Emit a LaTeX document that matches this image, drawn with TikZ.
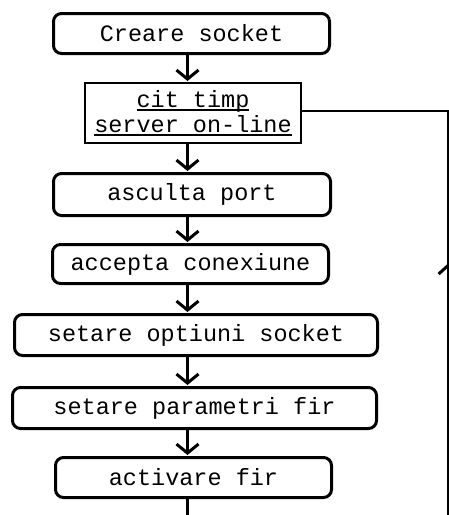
\documentclass[tikz,border=0pt]{standalone}
\usepackage{fontspec}
\setmainfont{Liberation Mono}
\usetikzlibrary{arrows.meta,decorations.markings}
\newcommand\myul[1]{\setbox0\hbox{#1}\rlap{\rule[-3pt]{\wd0}{1.3pt}}\box0}
\begin{document}
\begin{tikzpicture}[x=1pt,y=-1pt,
  boxfont/.style={font=\fontsize{23.5}{24}\selectfont},
  stepbox/.style={draw,line width=3pt,rounded corners=8pt,inner sep=0pt,boxfont},
  rectbox/.style={draw,line width=2pt,inner sep=0pt,align=center,boxfont},
  conn/.style={line width=3pt,-{Straight Barb[length=9pt,width=22pt]},shorten >=1pt},
  plain/.style={line width=3pt},
]
\useasboundingbox (0,0) rectangle (448,515);
\coordinate (ax) at (187.5,0);

\node[stepbox,minimum width=276pt,minimum height=40pt] (b1) at (191.5,33.5) {Creare socket};
\node[rectbox,minimum width=216pt,minimum height=60pt] (b2) at (193,113) {\myul{cit timp}\\[1pt]\myul{server on-line}};
\node[stepbox,minimum width=277pt,minimum height=42pt] (b3) at (192,194.5) {asculta port};
\node[stepbox,minimum width=276pt,minimum height=39pt] (b4) at (190.5,264) {accepta conexiune};
\node[stepbox,minimum width=363pt,minimum height=41pt] (b5) at (196,335) {setare optiuni socket};
\node[stepbox,minimum width=364pt,minimum height=41pt] (b6) at (194.5,408) {setare parametri fir};
\node[stepbox,minimum width=276pt,minimum height=40pt] (b7) at (193.5,477.5) {activare fir};

\draw[conn] (b1.south -| ax) -- (b2.north -| ax);
\draw[conn] (b2.south -| ax) -- (b3.north -| ax);
\draw[conn] (b3.south -| ax) -- (b4.north -| ax);
\draw[conn] (b4.south -| ax) -- (b5.north -| ax);
\draw[conn] (b5.south -| ax) -- (b6.north -| ax);
\draw[conn] (b6.south -| ax) -- (b7.north -| ax);

\coordinate (bot) at (187.5,515);
\draw[plain] (b7.south -| ax) -- (bot);

\coordinate (rb) at (448.6,515);
\coordinate (rt) at (448.6,111);
\draw[line width=2.5pt,postaction={decorate},
  decoration={markings,mark=at position 252pt with {\arrow[line width=3pt]{Straight Barb[length=9pt,width=20pt]}}}]
  (rb) -- (rt) -- (rt -| b2.east);
\end{tikzpicture}
\end{document}
